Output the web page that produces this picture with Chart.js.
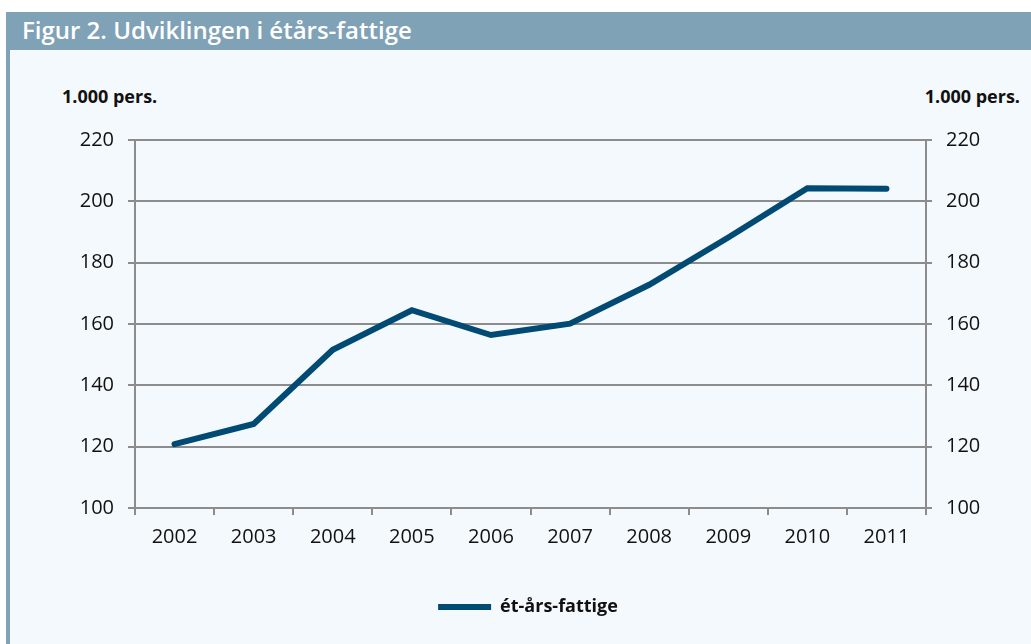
<!DOCTYPE html>
<html>
<head>
<meta charset="utf-8">
<script src="https://cdn.jsdelivr.net/npm/chart.js@4"></script>
<style>
  html, body { margin:0; padding:0; width:1031px; height:644px; background:#ffffff; overflow:hidden; font-family:"Open Sans", sans-serif; }
  #titlebar { position:absolute; left:6px; top:12px; width:1025px; height:38px; background:#7fa2b7; }
  #titletext { position:absolute; left:16px; top:3px; color:#ffffff; font-weight:600; font-size:24px; line-height:30px; white-space:nowrap; }
  #leftstrip { position:absolute; left:6px; top:50px; width:4px; height:594px; background:#7fa2b7; }
  #panel { position:absolute; left:10px; top:50px; width:1021px; height:594px; background:#f4f9fd; }
  .unit { position:absolute; top:84px; font-weight:700; font-size:18px; color:#111; white-space:nowrap; line-height:24px; }
  #unitL { left:62px; }
  #unitR { right:11px; }
  #wrap { position:absolute; left:10px; top:50px; width:1021px; height:594px; }
</style>
</head>
<body>
<div id="titlebar"><div id="titletext">Figur 2. Udviklingen i étårs-fattige</div></div>
<div id="leftstrip"></div>
<div id="panel"></div>
<div class="unit" id="unitL">1.000 pers.</div>
<div class="unit" id="unitR">1.000 pers.</div>
<div id="wrap"><canvas id="c" width="1021" height="594"></canvas></div>
<script>
const years = ["2002","2003","2004","2005","2006","2007","2008","2009","2010","2011"];
const seriesName = "ét-års-fattige";
const etaarsFattige = [120.8, 127.4, 151.6, 164.5, 156.4, 160.1, 172.8, 188.2, 204.3, 204.1];
const yTicks = [100, 120, 140, 160, 180, 200, 220];

const gridColor = "#8c8c8c";
const tickFont = { family: "'Open Sans', sans-serif", size: 20 };

new Chart(document.getElementById("c"), {
  type: "line",
  data: {
    labels: years,
    datasets: [{
      label: seriesName,
      data: etaarsFattige,
      borderColor: "#004a74",
      backgroundColor: "#004a74",
      borderWidth: 6,
      borderCapStyle: "round",
      borderJoinStyle: "miter",
      pointRadius: 0,
      pointHoverRadius: 0,
      tension: 0,
      yAxisID: "y"
    }]
  },
  options: {
    responsive: false,
    animation: false,
    layout: { padding: { top: 90, bottom: 18, left: 15, right: 0 } },
    plugins: {
      tooltip: { enabled: false },
      legend: {
        position: "bottom",
        labels: {
          usePointStyle: true,
          pointStyle: "line",
          pointStyleWidth: 53,
          color: "#111",
          font: { family: "'Open Sans', sans-serif", size: 18, weight: "bold" },
          padding: 10
        }
      }
    },
    scales: {
      x: {
        type: "category",
        offset: true,
        grid: { display: true, offset: true, drawOnChartArea: false, drawTicks: true, tickLength: 7, color: gridColor, lineWidth: 2 },
        border: { display: true, color: gridColor, width: 2 },
        ticks: { color: "#111", font: tickFont, padding: 10, maxRotation: 0, autoSkip: false },
        afterFit: s => { s.height = 80; }
      },
      y: {
        position: "left",
        min: yTicks[0], max: yTicks[yTicks.length - 1],
        afterBuildTicks: s => { s.ticks = yTicks.map(v => ({ value: v })); },
        grid: { color: gridColor, lineWidth: 2, tickLength: 7 },
        border: { display: true, color: gridColor, width: 2 },
        ticks: { color: "#111", font: tickFont, padding: 14 },
        afterFit: s => { s.width = 110; }
      },
      y1: {
        position: "right",
        min: yTicks[0], max: yTicks[yTicks.length - 1],
        afterBuildTicks: s => { s.ticks = yTicks.map(v => ({ value: v })); },
        grid: { drawOnChartArea: false, color: gridColor, lineWidth: 2, tickLength: 6 },
        border: { display: true, color: gridColor, width: 2 },
        ticks: { color: "#111", font: tickFont, padding: 14 },
        afterFit: s => { s.width = 105; }
      }
    }
  }
});
</script>
</body>
</html>
